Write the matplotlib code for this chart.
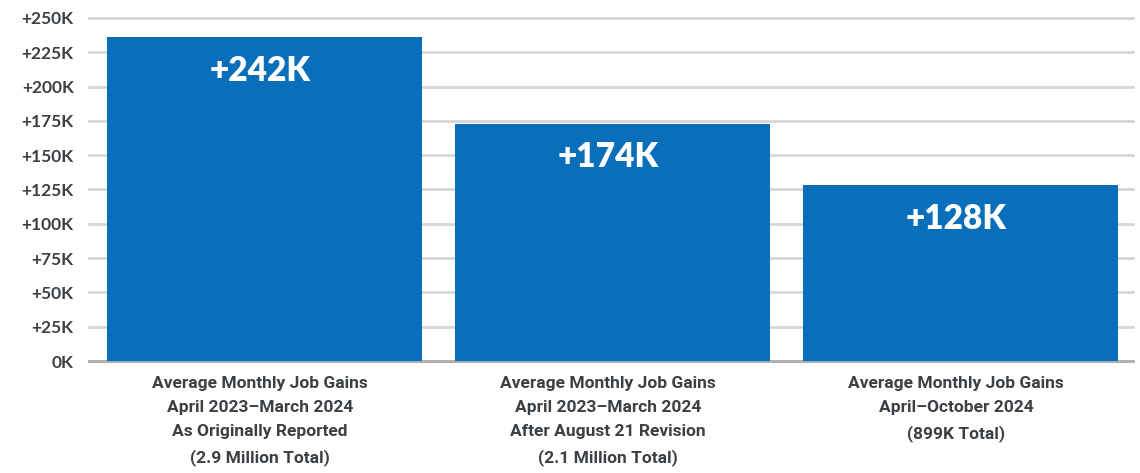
import matplotlib
matplotlib.use("Agg")
import matplotlib.pyplot as plt

# values
categories = [
    "Average Monthly Job Gains\nApril 2023\u2013March 2024\nAs Originally Reported\n(2.9 Million Total)",
    "Average Monthly Job Gains\nApril 2023\u2013March 2024\nAfter August 21 Revision\n(2.1 Million Total)",
    "Average Monthly Job Gains\nApril\u2013October 2024\n(899K Total)",
]
bar_heights = [236, 173, 128]          # in thousands, as drawn
value_labels = ["+242K", "+174K", "+128K"]
yticks = [0, 25, 50, 75, 100, 125, 150, 175, 200, 225, 250]
ytick_labels = ["0K"] + ["+%dK" % v for v in yticks[1:]]

BLUE = "#0a6fba"
TEXT = "#3b4045"


def main():
    fig = plt.figure(figsize=(11.4, 4.73), dpi=100)
    W, H = 1140, 473
    ax = fig.add_axes([89 / W, 112 / H, (1133 - 89) / W, (455 - 112) / H])

    x = range(len(categories))
    for v in yticks:
        ax.axhline(v, color="#aaaaaa" if v == 0 else "#d6d6d6",
                   lw=2.0, zorder=0, clip_on=False)
    ax.bar(x, bar_heights, width=0.905, color=BLUE, zorder=2)

    for i, (h, lab) in enumerate(zip(bar_heights, value_labels)):
        ax.annotate(lab, (i, h), xytext=(-3, -24), textcoords="offset points",
                    ha="center", va="center", color="white",
                    fontsize=24, fontweight="heavy", family="Lato")

    ax.set_xlim(-0.504, 2.496)
    ax.set_ylim(0, 250)
    ax.set_yticks(yticks)
    ax.set_yticklabels(ytick_labels, fontsize=12.5, fontweight="bold",
                       family="Lato", color=TEXT)
    ax.tick_params(axis="y", length=0, pad=11)
    ax.set_xticks([])
    for s in ax.spines.values():
        s.set_visible(False)

    for i, c in enumerate(categories):
        ax.annotate(c, (i, 0), xytext=(-3, -11), textcoords="offset points",
                    ha="center", va="top", color=TEXT, fontsize=12.5,
                    fontweight="bold", linespacing=1.75,
                    family=["Roboto", "DejaVu Sans"])

    fig.savefig("out.png", dpi=100)


if __name__ == "__main__":
    main()
